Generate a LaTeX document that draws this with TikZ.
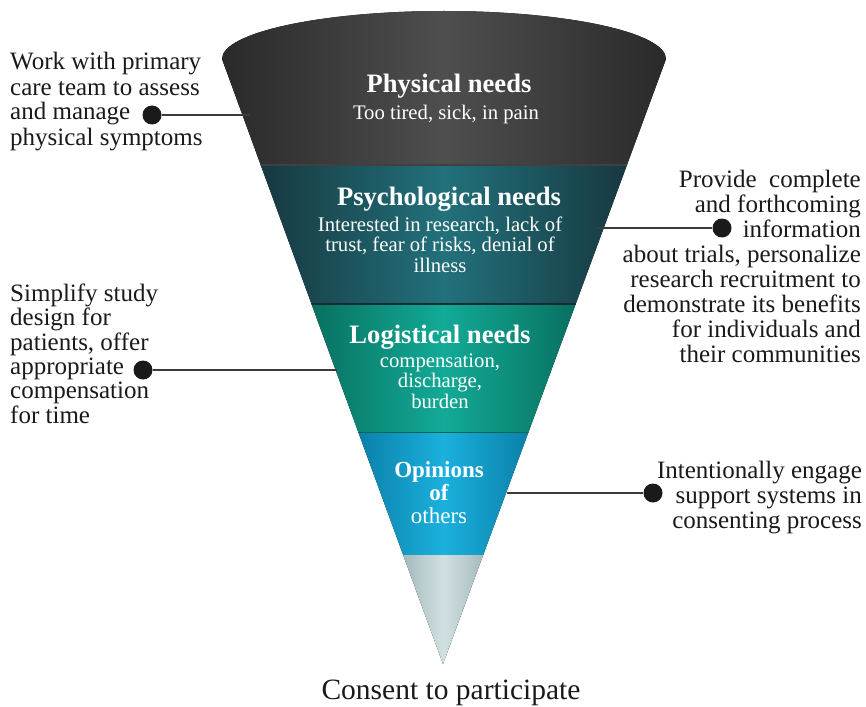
\documentclass[tikz,border=0pt]{standalone}
\usepackage{fontspec}
\setmainfont{Liberation Serif}
\definecolor{physEdge}{HTML}{2A2A2A}
\definecolor{physMid}{HTML}{4E4E4E}
\definecolor{psyEdge}{HTML}{17373F}
\definecolor{psyMid}{HTML}{22717B}
\definecolor{logEdge}{HTML}{08705F}
\definecolor{logMid}{HTML}{12AA97}
\definecolor{opiEdge}{HTML}{0A7FA8}
\definecolor{opiMid}{HTML}{1BB0DD}
\definecolor{tipEdge}{HTML}{A2B8BC}
\definecolor{tipMid}{HTML}{D2E0E1}
\definecolor{ink}{HTML}{1A1A1A}
\begin{document}
\begin{tikzpicture}[x=1pt,y=-1pt,
  sidetext/.style={font=\fontsize{25}{25}\selectfont, inner sep=0pt, text=ink},
  bandtitle/.style={font=\bfseries\fontsize{26.6}{28}\selectfont, text=white, inner sep=0pt, anchor=base},
  bandtext/.style={font=\fontsize{20.7}{20.5}\selectfont, text=white, inner sep=0pt, align=center, anchor=base},
  leader/.style={draw=ink!85, line width=1.3pt},
  bullet/.style={circle, fill=ink, minimum size=19pt, inner sep=0pt},
  band/.style 2 args={left color=#1, right color=#1, middle color=#2},
  seam/.style={line width=1.6pt, draw=#1},
]
\useasboundingbox (0,0) rectangle (866,706);
\fill[white] (0,0) rectangle (866,706);

% funnel: elliptical rim on top, straight sides down to the tip
\begin{scope}
  \clip (222,59) .. controls (222,32.5) and (321.4,11) .. (444,11)
        .. controls (566.6,11) and (666,32.5) .. (666,59) -- (443,664) -- cycle;
  \fill[band={physEdge}{physMid}] (222,0) rectangle (666,165);
  \fill[band={psyEdge}{psyMid}] (258,165) rectangle (630,304);
  \fill[band={logEdge}{logMid}] (309,304) rectangle (578,432);
  \fill[band={opiEdge}{opiMid}] (356,432) rectangle (531,555);
  \fill[band={tipEdge}{tipMid}] (401,555) rectangle (486,670);
  \draw[seam=black!75] (200,165) -- (700,165);
  \draw[seam=psyEdge!80!black] (200,304) -- (700,304);
  \draw[seam=logEdge!90!black, line width=0.8pt] (200,432) -- (700,432);
\end{scope}

% band labels (multi-line nodes sit on the baseline of their last line)
\node[bandtitle] (phys) at (449,93) {Physical needs};
\node[bandtext] (physsub) at (446,120) {Too tired, sick, in pain};
\node[bandtitle] (psy) at (449,205) {Psychological needs};
\node[bandtext] (psysub) at (440,272) {Interested in research, lack of\\trust, fear of risks, denial of\\illness};
\node[bandtitle] (log) at (440,343) {Logistical needs};
\node[bandtext] (logsub) at (440,408) {compensation,\\discharge,\\burden};
\node[font=\fontsize{23}{23}\selectfont, text=white, inner sep=0pt, align=center, anchor=base]
  (opi) at (439,523) {\textbf{Opinions}\\\textbf{of}\\others};

\node[font=\fontsize{29.5}{30}\selectfont, text=ink, inner sep=0pt, anchor=base]
  (consent) at (451,699.5) {Consent to participate};

% side notes with leaders into the funnel
\node[sidetext, align=left, anchor=base west] (note1) at (10,145)
  {Work with primary\\care team to assess\\and manage\\physical symptoms};
\node[bullet] (b1) at (152,115) {};
\coordinate (e1) at (250,115);
\draw[leader] (b1) -- (e1);

\node[sidetext, font=\fontsize{25}{24.3}\selectfont, align=left, anchor=base west] (note2) at (10,423)
  {Simplify study\\design for\\patients, offer\\appropriate\\compensation\\for time};
\node[bullet] (b2) at (143,370) {};
\coordinate (e2) at (337,370);
\draw[leader] (b2) -- (e2);

\node[sidetext, align=right, anchor=base east] (note3) at (861,362)
  {Provide\ \ complete\\and forthcoming\\information\hspace{6pt}\\about trials, personalize\\research recruitment to\\demonstrate its benefits\\for individuals and\\their communities\hspace{3pt}};
\node[bullet] (b3) at (722,228) {};
\coordinate (e3) at (597,228);
\draw[leader] (e3) -- (b3);

\node[sidetext, align=right, anchor=base east] (note4) at (862,528)
  {Intentionally engage\\support systems in\\consenting process\hspace{7pt}};
\node[bullet] (b4) at (653,493) {};
\coordinate (e4) at (507,493);
\draw[leader] (e4) -- (b4);
\end{tikzpicture}
\end{document}
